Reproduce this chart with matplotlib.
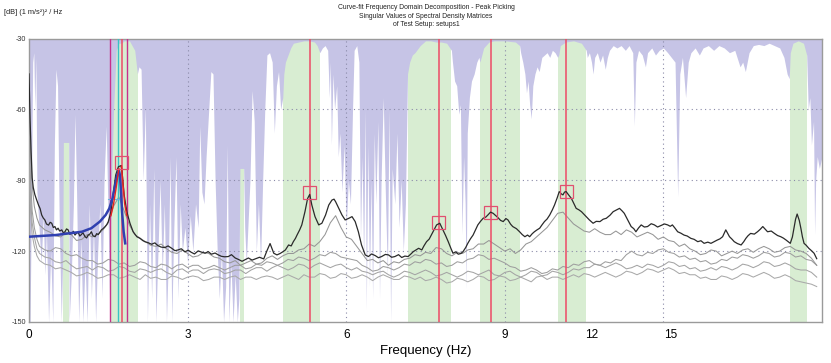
import numpy as np
import matplotlib
matplotlib.use("Agg")
import matplotlib.pyplot as plt
from matplotlib.patches import Rectangle

plt.rcParams['font.family'] = ['Liberation Sans', 'DejaVu Sans']

# ---------------- data ----------------
title_lines = ["Curve-fit Frequency Domain Decomposition - Peak Picking",
               "Singular Values of Spectral Density Matrices",
               "of Test Setup: setups1"]
y_unit_label = "[dB] (1 m/s\u00b2)\u00b2 / Hz"
x_label = "Frequency (Hz)"

y_ticks = [-30, -60, -90, -120, -150]
x_grid = [3, 6, 9, 12]
x_tick_pos = [0, 3, 6, 9, 10.64, 12.13]
x_tick_labels = ["0", "3", "6", "9", "12", "15"]

# first singular value (black)
sv1_freq = [
    0.00, 0.01, 0.02, 0.04, 0.06, 0.08, 0.11, 0.14, 0.18, 0.21,
    0.24, 0.27, 0.30, 0.33, 0.37, 0.40, 0.43, 0.46, 0.49, 0.52,
    0.55, 0.58, 0.62, 0.65, 0.68, 0.71, 0.74, 0.77, 0.81, 0.84,
    0.87, 0.90, 0.93, 0.96, 0.99, 1.02, 1.06, 1.09, 1.12, 1.15,
    1.18, 1.21, 1.25, 1.28, 1.31, 1.34, 1.37, 1.40, 1.44, 1.47,
    1.50, 1.55, 1.59, 1.64, 1.69, 1.74, 1.76, 1.80, 1.85, 1.91,
    1.97, 2.04, 2.10, 2.15, 2.19, 2.25, 2.32, 2.38, 2.44, 2.50,
    2.57, 2.63, 2.70, 2.76, 2.82, 2.88, 2.95, 3.01, 3.07, 3.13,
    3.20, 3.26, 3.33, 3.39, 3.45, 3.52, 3.58, 3.64, 3.70, 3.77,
    3.83, 3.90, 3.96, 4.03, 4.09, 4.15, 4.22, 4.28, 4.36, 4.44,
    4.50, 4.56, 4.63, 4.69, 4.75, 4.80, 4.85, 4.91, 4.96, 5.00,
    5.04, 5.07, 5.12, 5.16, 5.22, 5.27, 5.31, 5.35, 5.41, 5.48,
    5.54, 5.61, 5.67, 5.73, 5.77, 5.80, 5.86, 5.92, 5.98, 6.05,
    6.11, 6.17, 6.23, 6.29, 6.36, 6.42, 6.48, 6.55, 6.61, 6.67,
    6.74, 6.80, 6.86, 6.92, 6.99, 7.05, 7.11, 7.17, 7.22, 7.27,
    7.32, 7.37, 7.43, 7.47, 7.52, 7.57, 7.61, 7.66, 7.71, 7.77,
    7.83, 7.88, 7.93, 7.98, 8.02, 8.07, 8.12, 8.17, 8.21, 8.26,
    8.30, 8.35, 8.40, 8.45, 8.49, 8.54, 8.59, 8.64, 8.68, 8.73,
    8.78, 8.83, 8.87, 8.92, 8.97, 9.02, 9.06, 9.11, 9.15, 9.22,
    9.28, 9.33, 9.38, 9.43, 9.47, 9.52, 9.56, 9.61, 9.66, 9.70,
    9.75, 9.80, 9.85, 9.90, 9.94, 9.99, 10.03, 10.07, 10.10, 10.13,
    10.16, 10.21, 10.26, 10.31, 10.35, 10.40, 10.45, 10.50, 10.54, 10.60,
    10.67, 10.73, 10.80, 10.86, 10.92, 10.99, 11.05, 11.11, 11.17, 11.22,
    11.26, 11.33, 11.39, 11.44, 11.48, 11.53, 11.58, 11.64, 11.70, 11.77,
    11.83, 11.89, 11.95, 12.02, 12.08, 12.13, 12.17, 12.22, 12.27, 12.33,
    12.39, 12.45, 12.52, 12.58, 12.65, 12.71, 12.77, 12.84, 12.90, 12.96,
    13.02, 13.07, 13.12, 13.18, 13.25, 13.30, 13.34, 13.40, 13.47, 13.52,
    13.56, 13.60, 13.65, 13.72, 13.78, 13.83, 13.88, 13.93, 13.97, 14.04,
    14.10, 14.16, 14.22, 14.27, 14.32, 14.36, 14.40, 14.44, 14.47, 14.50,
    14.53, 14.57, 14.60, 14.63, 14.66, 14.70, 14.75, 14.80, 14.85, 14.90]
sv1_db = [
    -45, -55, -64, -78, -89, -93, -96, -98, -100.5, -102,
    -104.7, -106, -106.8, -108.5, -109, -107.8, -108.2, -110, -109.6, -111,
    -110.3, -111.5, -111, -112.3, -111.8, -110.6, -111, -112.8, -112.5, -111.6,
    -113.2, -112.4, -112, -113.6, -113, -112.2, -113.9, -114.4, -113.2, -112.8,
    -111.8, -113.5, -113.9, -112.6, -113, -112, -111, -110.5, -109.6, -108.8,
    -107.5, -103.3, -96.2, -87.8, -84.3, -83.8, -86.4, -96.2, -103.3, -108.2,
    -111.8, -113.9, -114.6, -115.5, -116, -116.4, -117.1, -116.5, -117.7, -118.3,
    -118.5, -117.8, -118.8, -119.8, -119.5, -119, -120.3, -119.6, -120.5, -121.2,
    -119.9, -120.4, -120.9, -120.2, -121.3, -120.8, -121.6, -122.2, -122.4, -122.3,
    -121.5, -122.9, -123.5, -124.3, -123.6, -122.9, -123.8, -123.3, -122.6, -123.3,
    -119.9, -116.8, -120.9, -121.6, -121, -120.3, -119.5, -117.4, -117.8, -116,
    -114.6, -113.2, -111, -108.9, -103.3, -97.7, -96.0, -100.5, -105.4, -108.9,
    -108.2, -104.7, -100.5, -98.4, -98.0, -99.1, -101.9, -104.7, -106.8, -106.1,
    -105.4, -107.5, -111.8, -117.4, -121.6, -122.3, -121.2, -121.9, -122.8, -122.3,
    -121.4, -121.6, -122.6, -122.3, -121.5, -122.7, -122.1, -122.3, -121.3, -120.2,
    -119.5, -118.8, -119.5, -117.8, -116.0, -114.9, -113.2, -111.0, -108.9, -108.2,
    -111.0, -113.4, -116.0, -118.8, -120.9, -120.3, -121.3, -121.0, -120.2, -118.5,
    -116.7, -114.8, -113.2, -110.8, -108.9, -107.4, -106.1, -105.6, -104.7, -103.5,
    -104.0, -105.0, -105.8, -107.0, -107.5, -106.2, -106.8, -108.6, -109.6, -110.5,
    -111.8, -113.0, -113.9, -113.2, -113.9, -112.6, -111.8, -111.0, -110.3, -109.0,
    -107.5, -106.4, -104.7, -102.5, -100.5, -97.5, -94.8, -95.8, -96.2, -95.0,
    -94.8, -96.3, -97.7, -100.0, -101.9, -102.5, -103.3, -104.5, -105.4, -106.8,
    -108.2, -107.4, -107.5, -106.5, -106.1, -104.8, -103.3, -102.6, -101.9, -103.0,
    -104.0, -107.0, -109.6, -110.5, -111.8, -110.2, -108.9, -109.8, -109.6, -108.4,
    -108.9, -109.8, -109.2, -108.5, -108.9, -109.5, -108.9, -110.3, -111.8, -112.4,
    -113.2, -113.6, -114.6, -115.0, -116.0, -115.6, -116.7, -116.2, -116.7, -116.0,
    -115.3, -114.8, -113.9, -111.0, -113.9, -115.0, -116.0, -116.8, -117.4, -116.0,
    -114.6, -113.5, -112.5, -112.8, -111.8, -110.8, -109.6, -110.8, -111.8, -111.5,
    -112.5, -113.4, -113.9, -114.5, -115.3, -116.0, -116.7, -114.0, -110.3, -106.5,
    -104.3, -107.0, -110.3, -114.0, -116.7, -117.5, -118.8, -119.8, -120.9, -123.2]

# other singular values (grey) on a common frequency grid (0.1 Hz after 0.2 Hz)
sv_freq = np.concatenate([[0.0, 0.03, 0.06, 0.1, 0.15], np.arange(0.2, 14.85, 0.1), [14.9]])
sv2_db = [
    -58, -78, -92, -101, -106,
    -109, -111, -112, -113.5, -114, -112, -113, -115.5, -115, -113,
    -114, -113, -111, -108, -101, -97, -103, -109, -113, -114.5,
    -116, -117.5, -118, -117, -119, -120.5, -121, -119.5, -121, -122.5,
    -122, -120.5, -121, -122.5, -123, -124.5, -125, -124, -126, -125,
    -124, -125.5, -125, -123, -122, -123.5, -122, -121, -121, -119.5,
    -119, -117, -118, -116, -113, -108, -105, -110, -114, -115,
    -118, -121, -124, -123.5, -125, -124, -126, -124.5, -125, -123.5,
    -123, -121.5, -122, -120.5, -121, -118.5, -119, -121, -122, -120.5,
    -121, -119.5, -119, -117, -117, -115.5, -117, -118.5, -120, -119,
    -121, -119.5, -117, -116, -114, -112, -110, -107, -104, -103.5,
    -106, -108.5, -110, -111.5, -112, -110.5, -112, -113, -113, -111.5,
    -113, -111, -112, -114, -113, -112, -113, -115, -114, -115.5,
    -116, -118, -117, -119, -120, -121.5, -121, -119.5, -120, -122,
    -121, -120, -121, -119.5, -119, -120.5, -119, -118, -119, -120.5,
    -120, -118.5, -118, -119.5, -120, -121, -123, -126]
sv3_db = [
    -68, -90, -103, -110, -115,
    -118, -119.5, -120, -118.5, -119, -121, -122, -121.5, -123, -124,
    -124, -125.5, -125, -123.5, -124, -125.5, -125, -126.5, -126, -124.5,
    -125, -126.5, -127, -125.5, -126, -127.5, -126, -125.5, -127, -126,
    -126, -127.5, -127, -126, -127, -128, -127, -126, -126, -127.5,
    -127, -125.5, -126, -124.5, -125, -126, -125, -123.5, -124, -122.5,
    -123, -124, -123, -121.5, -122, -120.5, -121, -122.5, -123, -123.5,
    -124, -126, -127, -128.5, -128, -126.5, -127, -128, -127, -125.5,
    -126, -124.5, -125, -123.5, -124, -125.5, -125, -126.5, -126, -124.5,
    -125, -123.5, -123, -121.5, -122, -123.5, -123, -124, -125, -126.5,
    -127, -128.5, -128, -127, -128, -129.5, -129, -127.5, -128, -126.5,
    -127, -125.5, -126, -124.5, -124, -125.5, -126, -124.5, -125, -123.5,
    -124, -121.5, -120, -121.5, -122, -120.5, -121, -119.5, -119, -120.5,
    -121, -122.5, -122, -123.5, -123, -124.5, -124, -125.5, -125, -123.5,
    -124, -122.5, -123, -121.5, -122, -123, -122, -120.5, -121, -122.5,
    -122, -120.5, -121, -122.5, -122, -123.5, -124, -126]
sv4_db = [
    -78, -98, -108, -114, -119,
    -121, -122.5, -123, -124.5, -125, -124, -126, -127.5, -127, -126.5,
    -128, -126.5, -127, -128.5, -128, -126.5, -127, -128.5, -129, -127.5,
    -128, -129, -128, -127.5, -129, -130, -128, -127.5, -129, -128,
    -128, -129.5, -128, -127.5, -128, -129.5, -129, -128, -128, -129.5,
    -128, -127, -127, -128.5, -127, -126, -127, -128, -127, -125.5,
    -126, -127.5, -126, -125, -126, -127, -126, -125.5, -127, -128,
    -127, -128.5, -129, -130, -129, -128.5, -130, -131, -130, -128.5,
    -129, -130, -129, -128, -129, -130.5, -130, -129, -130, -131,
    -130, -128.5, -129, -130, -129, -128, -130, -130.5, -129, -128.5,
    -130, -131, -130, -128.5, -129, -130.5, -130, -128.5, -129, -130,
    -129, -127.5, -128, -127, -127, -125.5, -126, -127, -126, -125,
    -126, -127.5, -127, -126, -127, -125.5, -126, -127, -126, -124.5,
    -125, -126.5, -126, -127.5, -127, -128.5, -128, -127, -128, -126.5,
    -127, -128, -127, -125.5, -126, -127, -126, -124.5, -125, -126.5,
    -126, -125, -126, -127.5, -128, -128, -129, -131]
sv5_db = [
    -84, -103, -113, -118, -122,
    -124, -125.5, -126, -127.5, -127, -128, -129, -130.5, -130, -129,
    -130, -131.5, -131, -130, -130, -131.5, -131, -130, -131, -132,
    -130, -131.5, -131, -132, -132, -130.5, -131, -132, -131, -130.5,
    -131, -132.5, -132, -131, -131, -132, -131, -130.5, -132, -131,
    -131, -132, -131, -130.5, -131, -132, -131, -130, -131, -132,
    -130, -131, -131, -129.5, -130, -131.5, -131, -129.5, -130, -131.5,
    -131, -130, -131, -132.5, -131, -130, -131, -132, -132, -130.5,
    -131, -132, -131, -132.5, -132, -131, -132, -133.5, -133, -131.5,
    -132, -133, -132, -130.5, -131, -132.5, -132, -130.5, -131, -132.5,
    -132, -131, -132, -133, -131, -130.5, -132, -131, -131, -132,
    -131, -130, -131, -129.5, -130, -131, -130, -129, -130, -131,
    -130, -128.5, -129, -130, -129, -127.5, -128, -129, -128, -127,
    -128, -129.5, -129, -130, -130, -131.5, -131, -132, -132, -130.5,
    -131, -132, -131, -129.5, -130, -131, -130, -129, -130, -131.5,
    -131, -130, -131, -132.5, -133, -133.5, -134, -135]

# indicator level: lavender above it, white (or green inside selected bands) below it
mac_freq = [
    0.00, 0.02, 0.04, 0.07, 0.09, 0.11, 0.13, 0.15, 0.19, 0.23, 0.27, 0.30, 0.33, 0.37, 0.41,
    0.45, 0.48, 0.51, 0.54, 0.57, 0.61, 0.64, 0.65, 0.75, 0.76, 0.80, 0.84, 0.87, 0.90, 0.94,
    0.98, 1.02, 1.06, 1.10, 1.14, 1.18, 1.22, 1.26, 1.30, 1.34, 1.38, 1.42, 1.46, 1.50, 1.53,
    1.55, 1.60, 1.65, 1.70, 1.75, 1.80, 1.90, 2.00, 2.05,
    2.08, 2.12, 2.16, 2.20, 2.24, 2.28, 2.32, 2.36, 2.40, 2.44, 2.48, 2.52, 2.56, 2.60, 2.64,
    2.67, 2.70, 2.74, 2.78, 2.82, 2.86, 2.90, 2.95, 3.00, 3.05, 3.10, 3.15, 3.20, 3.23, 3.27,
    3.31, 3.35, 3.40, 3.44, 3.48, 3.52, 3.56, 3.60, 3.64, 3.68, 3.72, 3.75, 3.78, 3.82, 3.86,
    3.90, 3.94, 3.97, 3.99, 4.06,
    4.08, 4.11, 4.14, 4.18, 4.22, 4.26, 4.30, 4.34, 4.38, 4.42, 4.46, 4.50, 4.55, 4.60, 4.64,
    4.68, 4.72, 4.76, 4.80,
    4.82, 4.85, 4.90, 4.95, 5.00, 5.10, 5.20, 5.30, 5.40, 5.45, 5.50,
    5.55, 5.60, 5.65, 5.68, 5.70, 5.72, 5.75, 5.78, 5.82, 5.85, 5.88, 5.92, 5.96, 6.00, 6.04,
    6.08, 6.12, 6.15, 6.20, 6.24, 6.27, 6.30, 6.33, 6.36, 6.38, 6.41, 6.44, 6.47, 6.50, 6.53,
    6.56, 6.60, 6.63, 6.66, 6.70, 6.74, 6.78, 6.81, 6.84, 6.87, 6.92, 6.96, 7.00, 7.04, 7.08,
    7.12,
    7.16, 7.20, 7.25, 7.30, 7.40, 7.50, 7.60, 7.70, 7.80, 7.90, 7.99,
    8.01, 8.05, 8.09, 8.13, 8.16, 8.19, 8.22, 8.25, 8.27, 8.29, 8.33, 8.37, 8.42, 8.47, 8.51,
    8.53, 8.60, 8.70, 8.80, 9.00, 9.20, 9.28,
    9.30, 9.34, 9.38, 9.41, 9.44, 9.47, 9.50, 9.53, 9.57, 9.61, 9.65, 9.70, 9.75, 9.80, 9.85,
    9.90, 9.95, 10.00,
    10.02, 10.05, 10.15, 10.30, 10.45, 10.54,
    10.56, 10.60, 10.64, 10.67, 10.70, 10.75, 10.80, 10.85, 10.90, 10.94, 10.98, 11.05, 11.12,
    11.20, 11.28, 11.35, 11.42, 11.45, 11.48, 11.53, 11.60, 11.66, 11.70, 11.78, 11.85, 11.92,
    12.00, 12.08, 12.15, 12.22, 12.27, 12.31, 12.36, 12.42, 12.47, 12.52, 12.60, 12.68, 12.75,
    12.85, 12.95, 13.05, 13.15, 13.25, 13.35, 13.45, 13.50, 13.55, 13.62, 13.70, 13.80, 13.90,
    14.00, 14.10, 14.20, 14.28, 14.34, 14.38,
    14.40, 14.45, 14.55, 14.65, 14.71,
    14.74, 14.77, 14.80, 14.84, 14.86, 14.88, 14.91, 14.95, 15.00]
mac_db = [
    -150, -150, -110, -40, -36, -60, -38, -95, -110, -125, -105, -130, -112, -150, -120,
    -150, -75, -43, -50, -105, -150, -120, -74, -74, -150, -130, -100, -62, -95, -150,
    -115, -150, -125, -150, -100, -140, -110, -150, -120, -100, -140, -90, -67, -110, -150,
    -100, -60, -35, -32, -32, -31, -31, -35, -45,
    -42, -43, -90, -59, -150, -100, -140, -85, -150, -120, -90, -130, -100, -150, -120,
    -80, -150, -110, -80, -140, -100, -120, -110, -125, -105, -120, -100, -110, -67, -95,
    -100, -80, -60, -44, -45, -90, -120, -140, -120, -150, -135, -75, -150, -125, -150,
    -130, -150, -140, -85, -85,
    -110, -125, -110, -90, -52, -65, -120, -100, -125, -90, -60, -37, -36, -40, -70,
    -50, -44, -60, -55,
    -45, -40, -37, -34, -32, -31.5, -31, -31, -31.5, -33, -36,
    -34, -33, -35, -55, -40, -75, -45, -60, -50, -80, -70, -95, -75, -110, -90,
    -100, -60, -35, -33, -40, -115, -80, -125, -60, -145, -75, -135, -90, -140, -70,
    -100, -65, -140, -90, -55, -95, -130, -60, -150, -85, -100, -70, -110, -90, -120,
    -100,
    -45, -40, -37, -36, -33, -31, -31, -31.5, -31.5, -32, -35,
    -40, -48, -50, -62, -58, -113, -80, -100, -136, -70, -55, -48, -45, -40, -38,
    -40, -34, -31.5, -31, -31, -31.5, -33,
    -36, -40, -45, -53, -48, -58, -64, -50, -45, -42, -44, -38, -37, -36, -38,
    -35, -36, -38,
    -37, -33, -31.5, -31, -32, -35,
    -38, -36, -40, -45, -38, -36, -40, -37, -43, -38, -35, -33, -34,
    -33, -35, -33, -36, -67, -40, -35, -37, -42, -36, -34, -37, -35,
    -34, -36, -38, -40, -97, -45, -38, -55, -40, -36, -34, -37, -34,
    -33, -35, -33, -34, -36, -35, -42, -40, -44, -36, -33, -32.5, -33,
    -32, -33, -34, -38, -45, -47,
    -36, -32, -31, -32, -37,
    -60, -55, -75, -65, -113, -90, -80, -85, -80]

# selected (green) frequency bands
band_lo = [0.65, 1.53, 3.99, 4.81, 7.16, 8.53, 10.01, 14.40]
band_hi = [0.75, 2.06, 4.06, 5.51, 7.99, 9.28, 10.54, 14.71]

# picked peaks (red lines + boxes)
peak_freq = [1.75, 5.31, 7.75, 8.73, 10.16]
peak_db = [-82.5, -95.2, -108.0, -103.6, -94.8]
# band limit markers around first mode
limit_freq = [1.53, 1.85]
cursor_freq = [1.69]

# curve-fit of first mode
fit_freq = [0.0, 0.5, 1.0, 1.18, 1.34, 1.45, 1.52, 1.58, 1.63, 1.67, 1.70, 1.72, 1.74, 1.76, 1.79, 1.82]
fit_db = [-113.9, -113.2, -111.8, -110.3, -107.5, -104.7, -101.9, -97.7, -92.0, -87.8, -85.7,
          -87.8, -94.8, -103.3, -111.8, -116.7]
red_l_freq = [1.55, 1.60, 1.65, 1.70]
red_l_db = [-105.0, -100.0, -93.0, -85.0]
red_r_freq = [1.75, 1.78, 1.81, 1.85]
red_r_db = [-84.0, -92.0, -100.0, -105.0]
cursor_seg_freq = [1.50, 1.75]
cursor_seg_db = [-98.0, -98.0]

assert len(sv1_freq) == len(sv1_db)
assert len(sv_freq) == len(sv2_db) == len(sv3_db) == len(sv4_db) == len(sv5_db)
assert len(mac_freq) == len(mac_db)

# ---------------- drawing ----------------
W, H = 831, 363
fig = plt.figure(figsize=(W / 100, H / 100), dpi=100)
ax = fig.add_axes([29 / W, 1 - 322 / H, 793 / W, 283.5 / H])

purple = '#c6c4e6'
green = '#d8edd2'

for lo, hi in zip(band_lo, band_hi):
    ax.axvspan(lo, hi, color=green, lw=0, zorder=0.5)
ax.fill_between(mac_freq, mac_db, -30, color=purple, lw=0, zorder=1)

for g in x_grid:
    ax.axvline(g, color='#8a8aa8', lw=0.8, ls=(0, (1, 3)), zorder=2)
for t in y_ticks[1:-1]:
    ax.axhline(t, color='#8a8aa8', lw=0.8, ls=(0, (1, 3)), zorder=2)

for vals, col in [(sv5_db, '#a9a9a9'), (sv4_db, '#a4a4a4'), (sv3_db, '#9e9e9e'), (sv2_db, '#969696')]:
    ax.plot(sv_freq, vals, color=col, lw=0.75, zorder=3)

for f in limit_freq:
    ax.axvline(f, color='#c8308c', lw=1.0, zorder=3.5)
for f in cursor_freq:
    ax.axvline(f, color='#38c4c4', lw=1.0, zorder=3.5)
for f in peak_freq:
    ax.axvline(f, color='#ee4a66', lw=1.1, zorder=3.6)

ax.plot(sv1_freq, sv1_db, color='#2a2a2a', lw=0.9, zorder=4)

ax.plot(cursor_seg_freq, cursor_seg_db, color='#6fb0e0', lw=0.8, zorder=5)
ax.plot(fit_freq, fit_db, color='#3040b0', lw=1.8, zorder=6)
ax.plot(red_l_freq, red_l_db, color='#e82020', lw=1.0, zorder=6.5)
ax.plot(red_r_freq, red_r_db, color='#e82020', lw=1.0, zorder=6.5)

box_w, box_h = 0.25, 5.6
for f, d in zip(peak_freq, peak_db):
    ax.add_patch(Rectangle((f - box_w / 2, d - box_h / 2), box_w, box_h, fill=False,
                           ec='#e05070', lw=0.9, zorder=7))

ax.set_xlim(0, 15)
ax.set_ylim(-150, -30)
ax.set_yticks(y_ticks)
ax.set_yticklabels([str(t) for t in y_ticks], fontsize=5.2)
ax.set_xticks(x_tick_pos)
ax.set_xticklabels(x_tick_labels, fontsize=8.5)
ax.tick_params(axis='y', length=0, pad=2, colors='#333333')
ax.tick_params(axis='x', length=0, pad=5)
ax.set_xlabel(x_label, fontsize=9.5, labelpad=3)
for s in ax.spines.values():
    s.set_color('#9a9a9a')
    s.set_linewidth(1.0)

fig.text(426 / W, 1 - 4 / H, "\n".join(title_lines), ha='center', va='top', fontsize=4.9,
         linespacing=1.3, color='#222222')
fig.text(4 / W, 1 - 12 / H, y_unit_label, ha='left', va='center', fontsize=5.3, color='#222222')

fig.savefig("out.png", dpi=100)
